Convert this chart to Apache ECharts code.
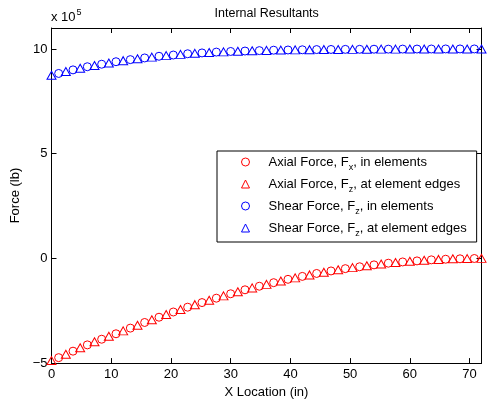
<!DOCTYPE html>
<html><head><meta charset="utf-8">
<script src="https://cdn.jsdelivr.net/npm/echarts@6/dist/echarts.min.js"></script>
<style>html,body{margin:0;padding:0;background:#fff}#c{width:487px;height:404px}</style>
</head><body><div id="c"></div>
<script>
const F = 'Liberation Sans, Arial, Helvetica, sans-serif';

// element edge and element centre locations (in)
const edgeX = [0,2.4,4.8,7.2,9.6,12,14.4,16.8,19.2,21.6,24,26.4,28.8,31.2,33.6,36,38.4,40.8,43.2,45.6,48,50.4,52.8,55.2,57.6,60,62.4,64.8,67.2,69.6,72];
const centerX = [1.2,3.6,6.0,8.4,10.8,13.2,15.6,18,20.4,22.8,25.2,27.6,30,32.4,34.8,37.2,39.6,42,44.4,46.8,49.2,51.6,54,56.4,58.8,61.2,63.6,66,68.4,70.8];

// values in units of 1e5 lb
const axialEdges = [-4.88,-4.58,-4.27,-3.98,-3.72,-3.46,-3.19,-2.93,-2.68,-2.44,-2.21,-2.00,-1.79,-1.59,-1.41,-1.24,-1.08,-0.93,-0.79,-0.66,-0.54,-0.44,-0.35,-0.27,-0.20,-0.14,-0.09,-0.05,-0.02,-0.01,0.0];
const axialCenters = [-4.74,-4.43,-4.13,-3.86,-3.60,-3.33,-3.06,-2.81,-2.56,-2.33,-2.11,-1.90,-1.69,-1.50,-1.33,-1.16,-1.00,-0.86,-0.72,-0.60,-0.49,-0.40,-0.31,-0.23,-0.17,-0.12,-0.07,-0.04,-0.02,-0.005];
const shearEdges = [8.74,8.92,9.08,9.21,9.33,9.44,9.53,9.61,9.68,9.74,9.79,9.83,9.86,9.89,9.91,9.93,9.945,9.955,9.965,9.97,9.975,9.98,9.985,9.99,9.99,9.995,9.995,10.0,10.0,10.0,10.0];
const shearCenters = [8.83,9.00,9.15,9.27,9.39,9.49,9.57,9.65,9.71,9.77,9.81,9.85,9.88,9.90,9.92,9.94,9.95,9.96,9.97,9.975,9.98,9.983,9.987,9.99,9.993,9.995,9.997,10.0,10.0,10.0];

const seriesNames = ['Axial Force, Fx, in elements','Axial Force, Fz, at element edges','Shear Force, Fz, in elements','Shear Force, Fz, at element edges'];
const legendRich = {
  'Axial Force, Fx, in elements': '{f|Axial Force, F}{s|x}{n|, in elements}',
  'Axial Force, Fz, at element edges': '{f|Axial Force, F}{s|z}{n|, at element edges}',
  'Shear Force, Fz, in elements': '{f|Shear Force, F}{s|z}{n|, in elements}',
  'Shear Force, Fz, at element edges': '{f|Shear Force, F}{s|z}{n|, at element edges}'
};

const pair = (xs, ys) => xs.map((x, i) => [x, ys[i]]);

function mk(name, xs, ys, color, symbol, size) {
  return {
    type: 'scatter', name, data: pair(xs, ys), symbol, symbolSize: size,
    itemStyle: {color: 'rgba(0,0,0,0)', borderColor: color, borderWidth: 1, opacity: 1},
    emphasis: {disabled: true}, silent: true, z: 3
  };
}

const axisCommon = {
  type: 'value',
  axisLine: {show: true, onZero: false, lineStyle: {color: '#000', width: 1}},
  axisTick: {show: true, inside: true, length: 5, lineStyle: {color: '#000', width: 1}},
  splitLine: {show: false}
};

const chart = echarts.init(document.getElementById('c'), null, {renderer: 'canvas'});
chart.setOption({
  animation: false,
  backgroundColor: '#fff',
  title: {text: 'Internal Resultants', left: 266.7, top: 7, padding: 0, textAlign: 'center',
    textStyle: {fontFamily: F, fontSize: 12.5, fontWeight: 'normal', color: '#000'}},
  grid: {left: 51.5, right: 5.5, top: 28, bottom: 38, containLabel: false},
  xAxis: [
    Object.assign({}, axisCommon, {min: 0, max: 72, interval: 10, position: 'bottom',
      axisLabel: {showMaxLabel: false, margin: 5, color: '#000', fontFamily: F, fontSize: 13},
      name: 'X Location (in)', nameLocation: 'middle', nameGap: 20,
      nameTextStyle: {fontFamily: F, fontSize: 13, color: '#000'}}),
    Object.assign({}, axisCommon, {min: 0, max: 72, interval: 10, position: 'top',
      axisLabel: {show: false}})
  ],
  yAxis: [
    Object.assign({}, axisCommon, {min: -5, max: 11, interval: 5, position: 'left',
      axisLabel: {showMaxLabel: false, margin: 4, color: '#000', fontFamily: F, fontSize: 13,
        formatter: v => v < 0 ? '\u2212' + Math.abs(v) : String(v)},
      name: 'Force (lb)', nameLocation: 'middle', nameGap: 27,
      nameTextStyle: {fontFamily: F, fontSize: 13, color: '#000'}}),
    Object.assign({}, axisCommon, {min: -5, max: 11, interval: 5, position: 'right',
      axisLabel: {show: false}})
  ],
  legend: {
    orient: 'vertical', left: 217, top: 151,
    padding: [1, 10, 4, 24], itemGap: 2, itemWidth: 8, itemHeight: 8,
    borderColor: '#000', borderWidth: 1, borderRadius: 0, backgroundColor: '#fff',
    itemStyle: {borderWidth: 1},
    selectedMode: false, data: seriesNames,
    formatter: name => legendRich[name],
    textStyle: {
      color: '#000', fontFamily: F, fontSize: 13,
      rich: {
        f: {fontFamily: F, fontSize: 13, color: '#000', lineHeight: 16, padding: [0, 0, 0, 14]},
        n: {fontFamily: F, fontSize: 13, color: '#000', lineHeight: 16},
        s: {fontFamily: F, fontSize: 9, color: '#000', lineHeight: 10, padding: [11, 0, 0, 0]}
      }
    }
  },
  graphic: [{
    type: 'text', left: 51, top: 8,
    style: {text: '{a|x 10}{b|5}', rich: {
      a: {fontFamily: F, fontSize: 13, color: '#000', lineHeight: 15},
      b: {fontFamily: F, fontSize: 9, color: '#000', lineHeight: 10, padding: [0, 0, 10, 1]}
    }}
  }],
  series: [
    mk(seriesNames[0], centerX, axialCenters, '#ff0000', 'circle', 8),
    mk(seriesNames[1], edgeX, axialEdges, '#ff0000', 'triangle', [9, 8]),
    mk(seriesNames[2], centerX, shearCenters, '#0000ff', 'circle', 8),
    mk(seriesNames[3], edgeX, shearEdges, '#0000ff', 'triangle', [9, 8])
  ]
});
</script>
</body></html>
